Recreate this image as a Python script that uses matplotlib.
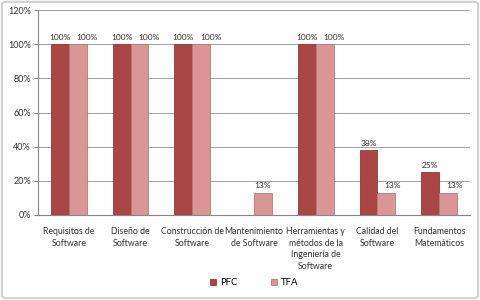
import matplotlib.pyplot as plt
import numpy as np
from matplotlib.patches import FancyBboxPatch

#==============================================
# DATA
#==============================================

categories=["Requisitos de\nSoftware","Diseño de\nSoftware","Construcción de\nSoftware",
            "Mantenimiento\nde Software","Herramientas y\nmétodos de la\nIngeniería de\nSoftware",
            "Calidad del\nSoftware","Fundamentos\nMatemáticos"]
pfc=[100,100,100,0,100,38,25]
tfa=[100,100,100,13,100,13,13]
pfc_labels=["100%","100%","100%","","100%","38%","25%"]
tfa_labels=["100%","100%","100%","13%","100%","13%","13%"]

#==============================================
# PLOT
#==============================================

plt.rcParams['font.family']=['Lato','DejaVu Sans']
fig=plt.figure(figsize=(4.8,3.0),dpi=100)
ax=fig.add_axes([38/480,1-215/300,432/480,205/300])

x=np.arange(len(categories))
w=0.29
ax.bar(x-w/2,pfc,w,color="#AA4643",edgecolor="#8E3A37",linewidth=0.6,label="PFC",zorder=3)
ax.bar(x+w/2,tfa,w,color="#D99694",edgecolor="#B97A78",linewidth=0.6,label="TFA",zorder=3)

for i in range(len(categories)):
    if pfc_labels[i]:
        ax.text(x[i]-w/2,pfc[i]+2,pfc_labels[i],ha="center",va="bottom",fontsize=6,color="#333333")
    # excel nudges the second label right when both bars carry one
    shift=0.0
    if pfc_labels[i]:
        shift=0.15 if pfc[i]==tfa[i] else 0.1
    ax.text(x[i]+w/2+shift,tfa[i]+2,tfa_labels[i],ha="center",va="bottom",fontsize=6,color="#333333")

ax.set_xlim(-0.5,len(categories)-0.5)
ax.set_ylim(0,120)
ax.set_yticks(range(0,121,20))
ax.set_yticklabels([str(v)+"%" for v in range(0,121,20)],fontsize=6.5,color="#333333")
ax.set_xticks(x)
ax.set_xticklabels(categories,fontsize=6.3,color="#333333",linespacing=1.35)
ax.tick_params(axis="x",length=0,pad=9)
ax.tick_params(axis="y",length=3,color="#888888",pad=2)
ax.grid(axis="y",color="#A6A6A6",linewidth=0.8,zorder=0)
for s in ["top","right"]:
    ax.spines[s].set_visible(False)
for s in ["left","bottom"]:
    ax.spines[s].set_color("#888888")
    ax.spines[s].set_linewidth(0.8)

ax.legend(loc="center",bbox_to_anchor=(0.5,-0.33),ncol=2,frameon=False,fontsize=6.8,
          handlelength=0.7,handleheight=0.7,columnspacing=3.5,handletextpad=0.4)

fig.patches.append(FancyBboxPatch((0.004,0.006),0.992,0.988,boxstyle="round,pad=0,rounding_size=0.01",
                                  transform=fig.transFigure,fill=False,edgecolor="#D0D0D0",linewidth=1.5))

plt.savefig("out.png",dpi=100)
